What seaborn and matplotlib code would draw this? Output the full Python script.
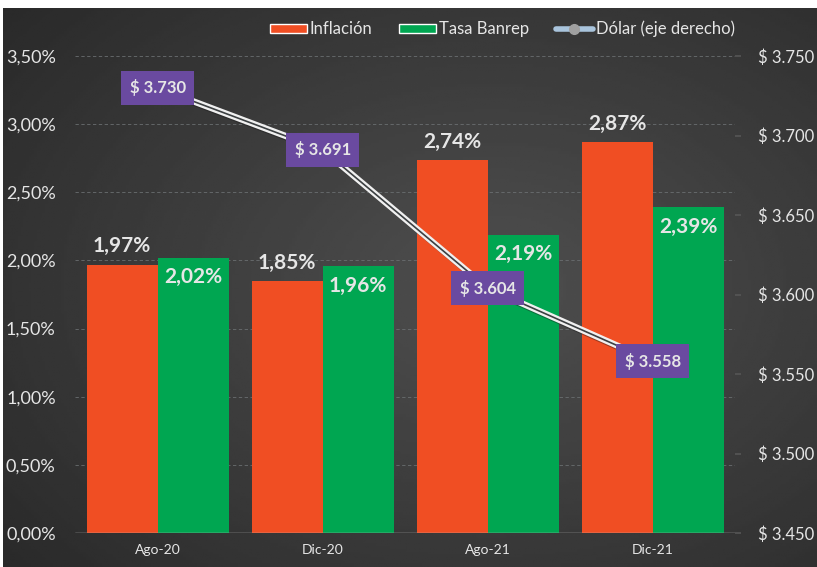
#!/usr/bin/env python3

import numpy as np
import pandas as pd
import seaborn as sns
import matplotlib.pyplot as plt
from matplotlib.lines import Line2D
from matplotlib.patches import Patch
import matplotlib.patheffects as pe

periodos = ['Ago-20', 'Dic-20', 'Ago-21', 'Dic-21']
inflacion = [1.97, 1.85, 2.74, 2.87]
tasa_banrep = [2.02, 1.96, 2.19, 2.39]
dolar = [3730, 3691, 3604, 3558]

naranja = '#f04e23'
verde = '#00a651'
morado = '#6a4aa0'
texto = '#e6e6e6'

sns.set_theme(style='dark')
plt.rcParams['font.family'] = ['Lato', 'DejaVu Sans']

data = pd.DataFrame({
    'periodo': periodos * 2,
    'valor': inflacion + tasa_banrep,
    'serie': ['Inflación'] * 4 + ['Tasa Banrep'] * 4,
})

fig = plt.figure(figsize=(8.17, 5.67), dpi=100, facecolor='white')

# dark gradient background (thin white strip on top/left like the source)
bg = fig.add_axes([0.004, 0, 0.996, 0.986], zorder=-10)
yy, xx = np.mgrid[0:1:200j, 0:1:300j]
r = np.sqrt(((xx - 0.6) / 0.8) ** 2 + ((yy - 0.5) / 0.8) ** 2)
bg.imshow(0.31 - 0.15 * np.clip(r, 0, 1), cmap='gray', vmin=0, vmax=1,
          extent=[0, 1, 0, 1], aspect='auto')
bg.set_axis_off()

ax = fig.add_axes([0.092, 0.06, 0.808, 0.841])
ax.patch.set_alpha(0)
sns.barplot(data=data, x='periodo', y='valor', hue='serie',
            palette=[naranja, verde], width=0.86, saturation=1, linewidth=0,
            ax=ax, legend=False, zorder=2)

ax.set_xlim(-0.5, 3.5)
ax.set_ylim(0, 3.5)
ax.set_yticks(np.arange(0, 3.51, 0.5))
ax.set_yticklabels([f'{v:.2f}%'.replace('.', ',') for v in np.arange(0, 3.51, 0.5)],
                   color=texto, fontsize=13)
ax.tick_params(axis='x', colors=texto, labelsize=10, length=0, pad=8)
ax.tick_params(axis='y', length=0, pad=14)
ax.set_xlabel('')
ax.set_ylabel('')
ax.grid(axis='y', color='#6a6e70', linestyle=(0, (4, 3)), linewidth=0.6, zorder=0)
for s in ax.spines.values():
    s.set_visible(False)
ax.axhline(0, color='#bdbdbd', linewidth=1, zorder=3)

# value labels
bars_inf = ax.patches[:4]
bars_tb = ax.patches[4:8]
for b, v in zip(bars_inf, inflacion):
    ax.text(b.get_x() + b.get_width() / 2, v + 0.06, f'{v:.2f}%'.replace('.', ','),
            ha='center', va='bottom', color=texto, fontsize=15, fontweight='bold')
for b, v in zip(bars_tb, tasa_banrep):
    ax.text(b.get_x() + b.get_width() / 2, v - 0.07, f'{v:.2f}%'.replace('.', ','),
            ha='center', va='top', color=texto, fontsize=15, fontweight='bold')

# dollar on right axis
ax2 = ax.twinx()
ax2.set_ylim(3450, 3750)
ax2.set_yticks(np.arange(3450, 3751, 50))
ax2.set_yticklabels([f'$ {v/1000:.3f}' for v in np.arange(3450, 3751, 50)],
                    color=texto, fontsize=12)
ax2.tick_params(axis='y', length=4, color='#555555', pad=12)
for s in ax2.spines.values():
    s.set_visible(False)
ax2.grid(False)

xs = np.arange(len(periodos))
ax2.plot(xs, dolar, color='#f0f0f0', linewidth=4.5, zorder=4,
         path_effects=[pe.SimpleLineShadow(offset=(1.5, -1.5), alpha=0.4), pe.Normal()])
ax2.plot(xs, dolar, color='#3c4042', linewidth=1.2, zorder=5)
for x, v in zip(xs, dolar):
    ax2.text(x, v, f'$ {v/1000:.3f}', ha='center', va='center', color=texto,
             fontsize=12, fontweight='bold', zorder=6,
             bbox=dict(boxstyle='square,pad=0.5', facecolor=morado, edgecolor='none'))

# legend
handles = [
    Patch(facecolor=naranja, label='Inflación'),
    Patch(facecolor=verde, label='Tasa Banrep'),
    Line2D([0], [0], color='#a9c4dc', linewidth=4, marker='o', markersize=7,
           markerfacecolor='#a0a0a0', markeredgecolor='#a0a0a0', label='Dólar (eje derecho)'),
]
leg = fig.legend(handles=handles, loc='upper center', bbox_to_anchor=(0.615, 0.99),
                 ncol=3, frameon=False, fontsize=12, handlelength=2.2, handleheight=0.5,
                 handletextpad=0.2, columnspacing=1.6, labelcolor=texto)

fig.savefig('out.png', dpi=100)
